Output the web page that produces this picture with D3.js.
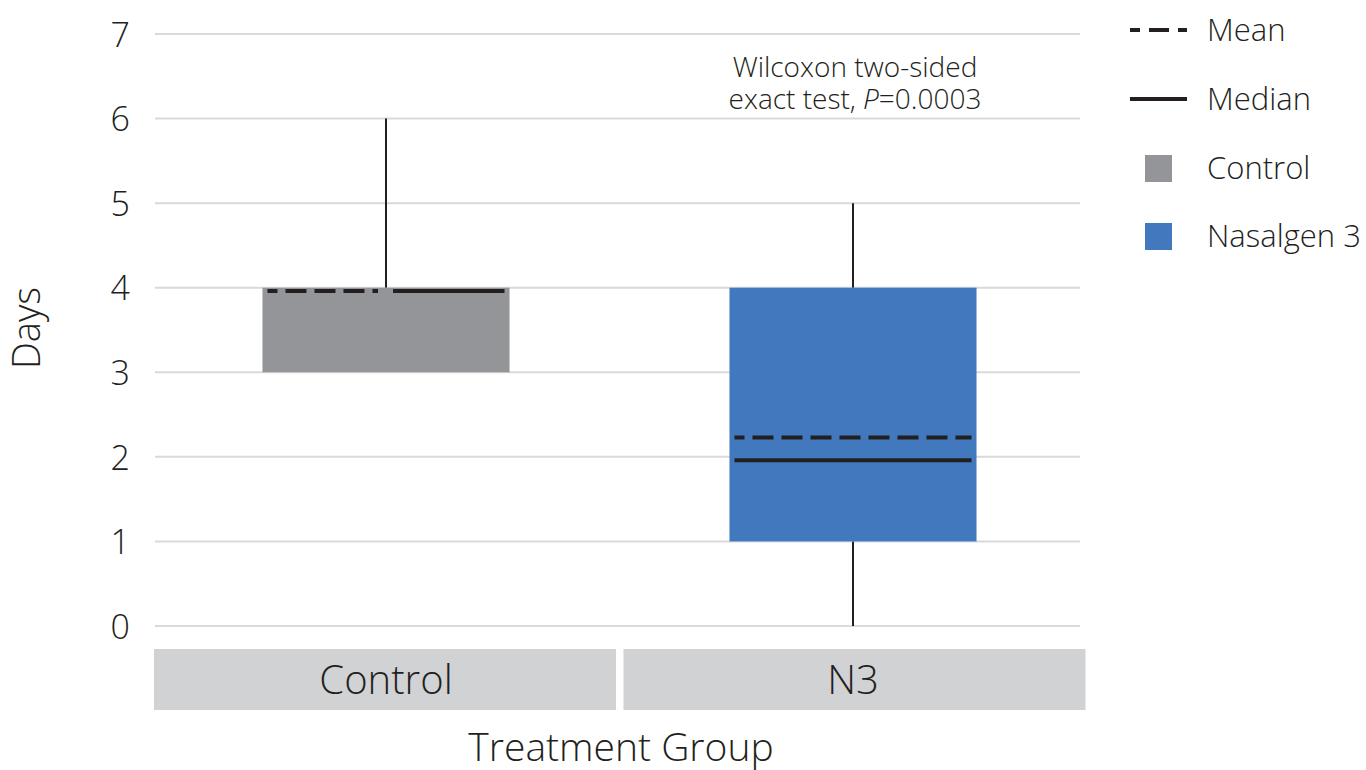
<!DOCTYPE html>
<html>
<head>
<meta charset="utf-8">
<script src="https://cdn.jsdelivr.net/npm/d3@7"></script>
<style>
  body { margin: 0; background: #fff; }
  text { font-family: "Open Sans", sans-serif; font-weight: 300; fill: #231f20; }
</style>
</head>
<body>
<svg width="1366" height="770"></svg>
<script>
// data
const groups = ["Control", "N3"]
const seriesNames = ["Control", "Nasalgen 3"]
const mins = [3, 0]
const q1s = [3, 1]
const q3s = [4, 4]
const maxs = [6, 5]
const means = [3.96, 2.23]
const medians = [3.96, 1.96]
const colors = ["#939598", "#4178be"]
const yTicks = [0, 1, 2, 3, 4, 5, 6, 7]

const ink = "#231f20"
const svg = d3.select("svg")

const yScale = d3.scaleLinear().domain([0, 7]).range([626, 34])
const xScale = d3.scaleBand().domain(groups).range([152.5, 1086.5])
const step = xScale.bandwidth()
const boxW = step * 0.529

// gridlines
svg.append("g")
    .selectAll("line")
    .data(yTicks)
    .enter()
    .append("line")
    .attr("x1", 155)
    .attr("x2", 1080)
    .attr("y1", d => yScale(d))
    .attr("y2", d => yScale(d))
    .style("stroke", "#d9d9d9")
    .style("stroke-width", 2)

// y axis labels
const yAxis = svg.append("g")
    .attr("transform", "translate(142,0)")
    .call(d3.axisLeft(yScale).tickValues(yTicks).tickFormat(d3.format("d")).tickSize(0).tickPadding(12))
yAxis.select(".domain").remove()
yAxis.selectAll("text")
    .style("font-size", "34px")
    .attr("fill", ink)
    .attr("dy", "0.36em")

svg.append("text")
    .attr("transform", "translate(40,328) rotate(-90)")
    .attr("text-anchor", "middle")
    .style("font-size", "38px")
    .text("Days")

const data = groups.map((g, i) => ({
    group: g, min: mins[i], q1: q1s[i], q3: q3s[i], max: maxs[i],
    mean: means[i], median: medians[i], color: colors[i]
}))

const box = svg.selectAll(".box")
    .data(data)
    .enter()
    .append("g")
    .attr("class", "box")

const cx = d => xScale(d.group) + step / 2

// whiskers
box.append("line")
    .attr("x1", cx).attr("x2", cx)
    .attr("y1", d => yScale(d.max))
    .attr("y2", d => yScale(d.q3))
    .style("stroke", ink).style("stroke-width", 2)
box.append("line")
    .attr("x1", cx).attr("x2", cx)
    .attr("y1", d => yScale(d.q1))
    .attr("y2", d => yScale(d.min))
    .style("stroke", ink).style("stroke-width", 2)

box.append("rect")
    .attr("x", d => cx(d) - boxW / 2)
    .attr("y", d => yScale(d.q3))
    .attr("width", boxW)
    .attr("height", d => yScale(d.q1) - yScale(d.q3))
    .style("fill", d => d.color)

// mean / median; when they coincide, mean takes the left half and median the right
const inset = 5
box.append("line")
    .attr("x1", d => cx(d) - boxW / 2 + inset)
    .attr("x2", d => Math.abs(d.mean - d.median) < 0.1 ? cx(d) - 8 : cx(d) + boxW / 2 - inset)
    .attr("y1", d => yScale(d.mean))
    .attr("y2", d => yScale(d.mean))
    .style("stroke", ink).style("stroke-width", 4)
    .style("stroke-dasharray", "21,8")
    .style("stroke-dashoffset", 11)
box.append("line")
    .attr("x1", d => Math.abs(d.mean - d.median) < 0.1 ? cx(d) + 7 : cx(d) - boxW / 2 + inset)
    .attr("x2", d => cx(d) + boxW / 2 - inset)
    .attr("y1", d => yScale(d.median))
    .attr("y2", d => yScale(d.median))
    .style("stroke", ink).style("stroke-width", 4)

// category strips
const strip = svg.selectAll(".strip")
    .data(groups)
    .enter()
    .append("g")
    .attr("class", "strip")
strip.append("rect")
    .attr("x", (d, i) => xScale(d) + (i ? 4 : 1.5))
    .attr("y", 649)
    .attr("width", 462)
    .attr("height", 61)
    .style("fill", "#d1d2d4")
strip.append("text")
    .attr("x", d => xScale(d) + step / 2)
    .attr("y", 694)
    .attr("text-anchor", "middle")
    .style("font-size", "40px")
    .text(d => d)

svg.append("text")
    .attr("x", 621)
    .attr("y", 761)
    .attr("text-anchor", "middle")
    .style("font-size", "39px")
    .text("Treatment Group")

// annotation
svg.append("text")
    .attr("x", 855).attr("y", 77)
    .attr("text-anchor", "middle")
    .style("font-size", "28px")
    .text("Wilcoxon two-sided")
const l2 = svg.append("text")
    .attr("x", 855).attr("y", 109)
    .attr("text-anchor", "middle")
    .style("font-size", "28px")
l2.append("tspan").text("exact test, ")
l2.append("tspan").style("font-style", "italic").text("P")
l2.append("tspan").text("=0.0003")

// legend
const legX = 1207
const lg = svg.append("g")
lg.append("line")
    .attr("x1", 1130).attr("x2", 1187).attr("y1", 30).attr("y2", 30)
    .style("stroke", ink).style("stroke-width", 4)
    .style("stroke-dasharray", "10,9,20,9,10")
lg.append("text").attr("x", legX).attr("y", 30).attr("dy", "0.35em")
    .style("font-size", "31px").text("Mean")
lg.append("line")
    .attr("x1", 1130).attr("x2", 1187).attr("y1", 99).attr("y2", 99)
    .style("stroke", ink).style("stroke-width", 4)
lg.append("text").attr("x", legX).attr("y", 99).attr("dy", "0.35em")
    .style("font-size", "31px").text("Median")

const legItems = lg.selectAll(".leg")
    .data(seriesNames)
    .enter()
    .append("g")
    .attr("class", "leg")
legItems.append("rect")
    .attr("x", 1145)
    .attr("y", (d, i) => 155 + i * 68)
    .attr("width", 27)
    .attr("height", 27)
    .style("fill", (d, i) => colors[i])
legItems.append("text")
    .attr("x", legX)
    .attr("y", (d, i) => 168 + i * 68)
    .attr("dy", "0.35em")
    .style("font-size", "31px")
    .text(d => d)
</script>
</body>
</html>
